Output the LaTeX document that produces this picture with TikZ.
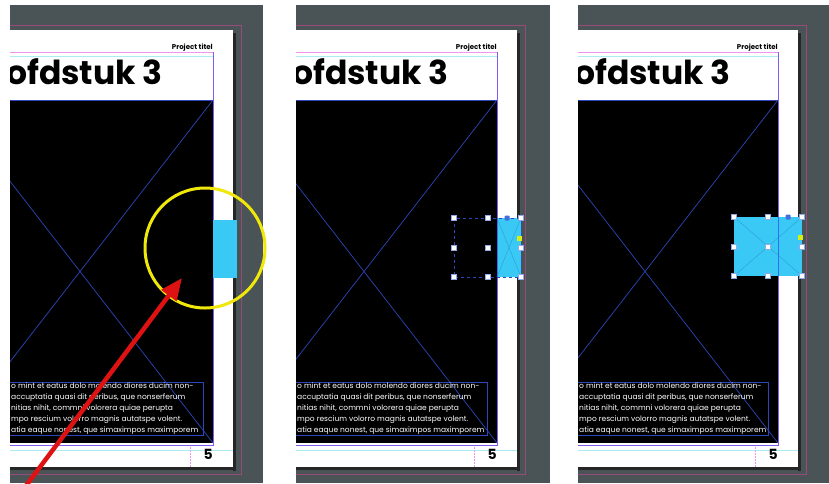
\documentclass[tikz,border=0pt]{standalone}
\usepackage{fontspec}
\setmainfont{Poppins}
\usetikzlibrary{arrows.meta}
\definecolor{panelgray}{RGB}{74,83,85}
\definecolor{bleedpink}{RGB}{150,75,120}
\definecolor{marginpink}{RGB}{240,150,240}
\definecolor{guidecyan}{RGB}{170,235,245}
\definecolor{marginviolet}{RGB}{130,90,240}
\definecolor{xblue}{RGB}{45,70,185}
\definecolor{boxcyan}{RGB}{58,200,245}
\definecolor{boxx}{RGB}{40,160,215}
\definecolor{edgeblue}{RGB}{50,110,240}
\definecolor{ringyellow}{RGB}{240,232,10}
\definecolor{arrowred}{RGB}{222,18,18}
\definecolor{handleblue}{RGB}{70,110,220}
\definecolor{dotyellow}{RGB}{215,240,20}
\tikzset{
  bleed/.style={draw=bleedpink, line width=0.8pt},
  xline/.style={draw=xblue, line width=0.7pt},
  heading/.style={font=\bfseries\fontsize{33}{33}\selectfont, anchor=base west, inner sep=0pt, text=black},
  ptitle/.style={font=\bfseries\fontsize{7}{7}\selectfont, anchor=base east, inner sep=0pt, text=black},
  pnum/.style={font=\bfseries\fontsize{14}{14}\selectfont, anchor=base east, inner sep=0pt, text=black},
  bodytext/.style={font=\fontsize{7.5}{11}\selectfont, anchor=north west, inner sep=0pt, text=white, align=left},
  handle/.style={draw=handleblue!60, fill=white, line width=0.4pt, minimum size=5pt, inner sep=0pt},
  grip/.style={fill=handleblue, rounded corners=1pt, minimum size=5pt, inner sep=0pt},
  ydot/.style={fill=dotyellow, minimum size=5pt, inner sep=0pt},
  ring/.style={circle, draw=ringyellow, line width=3pt, minimum size=120pt, inner sep=0pt},
  redarrow/.style={draw=arrowred, line width=4.5pt, -{Triangle[length=22pt,width=18pt]}},
}
% #1 prefix, #2 gray left, #3 gray right, #4 content right edge
\newcommand\drawpanel[4]{%
  \fill[panelgray] (#2,5) rectangle (#3,483);
  \begin{scope}
    \clip (#2,5) rectangle (#3,483);
    \draw[bleed] (#2,25) -- ({#4+28},25) -- ({#4+28},474) -- (#2,474);
    \fill[black!85] ({#4+20},33) rectangle ({#4+23},471);
    \fill[black!85] (#2,467) rectangle ({#4+23},470);
    \fill[white] (#2,30) rectangle ({#4+20},467);
    \draw[marginpink, line width=0.8pt] (#2,52) -- (#4,52);
    \draw[guidecyan, line width=0.8pt] (#2,56.5) -- (#4,56.5);
    \draw[guidecyan, line width=0.6pt] (#2,450) -- ({#4+20},450);
    \draw[marginpink, densely dotted, line width=0.5pt] ({#4-23},445) -- ({#4-23},467);
    \fill[black] (#2,100) rectangle (#4,443);
    \draw[xline] (#2,100) -- (#4,100);
    \draw[xline] (#4,100) -- ({#4-266},443);
    \draw[xline] (#4,443) -- ({#4-266},100);
    \draw[marginviolet, line width=0.8pt] (#4,52) -- (#4,445) -- (#2,445);
    \draw[xblue, line width=0.5pt] (#2,382) -- ({#4-10},382) -- ({#4-10},435) -- (#2,435);
    \node[ptitle] (#1title) at (#4,49.5) {Project titel};
    \node[heading] (#1head) at ({#2-4},84) {ofdstuk 3};
    \node[bodytext] (#1body) at ({#2+1},382.5) {o mint et eatus dolo molendo diores ducim non-\\accuptatia quasi dit peribus, que nonserferum\\nitias nihit, commni volorera quiae perupta\\mpo rescium volorro magnis autatspe volent.\\atia eaque nonest, que simaximpos maximporem};
    \node[pnum] (#1num) at (#4,459) {5};
  \end{scope}
}
\begin{document}
\begin{tikzpicture}[x=1pt, y=-1pt]
  \useasboundingbox (0,0) rectangle (829,483);
  \fill[white] (0,0) rectangle (829,483);
  \drawpanel{pa}{10}{263}{213}
  \drawpanel{pb}{296}{550}{497}
  \drawpanel{pc}{578}{829}{778}
  % panel 1: frame beside the page, ring and arrow
  \fill[boxcyan] (213,220) rectangle (237,278);
  \node[ring] (ring) at (205,248) {};
  \begin{scope}
    \clip (0,0) rectangle (829,483);
    \coordinate (tail) at (22,491);
    \coordinate (tip) at (182,278);
    \draw[redarrow] (tail) -- (tip);
  \end{scope}
  % panel 2: selected frame, dragged left
  \fill[boxcyan] (497,218) rectangle (521,277);
  \draw[boxx, line width=0.4pt] (497,218) -- (521,277) (497,277) -- (521,218);
  \draw[edgeblue, line width=0.8pt] (497,218) -- (497,277);
  \draw[xblue, dashed, line width=0.7pt] (454,218) rectangle (521,277);
  \foreach \x/\i in {454/a,487.5/b,521/c}
    \foreach \y/\j in {218/a,247.5/b,277/c}
      {\ifx\i\j\ifx\i b\else\node[handle] (hb\i\j) at (\x,\y) {};\fi\else\node[handle] (hb\i\j) at (\x,\y) {};\fi}
  \node[grip] (gripb) at (507,218) {};
  \node[ydot] (dotb) at (519,238) {};
  % panel 3: frame filled
  \fill[boxcyan] (734,217) rectangle (802,276);
  \draw[boxx, line width=0.4pt] (734,217) -- (802,276) (734,276) -- (802,217);
  \draw[edgeblue, line width=0.8pt] (778,217) -- (778,276);
  \foreach \x/\i in {734/a,768/b,802/c}
    \foreach \y/\j in {217/a,246.5/b,276/c}
      {\ifx\i\j\ifx\i b\else\node[handle] (hc\i\j) at (\x,\y) {};\fi\else\node[handle] (hc\i\j) at (\x,\y) {};\fi}
  \node[grip] (gripc) at (788,217) {};
  \node[ydot] (dotc) at (800,237) {};
\end{tikzpicture}
\end{document}
